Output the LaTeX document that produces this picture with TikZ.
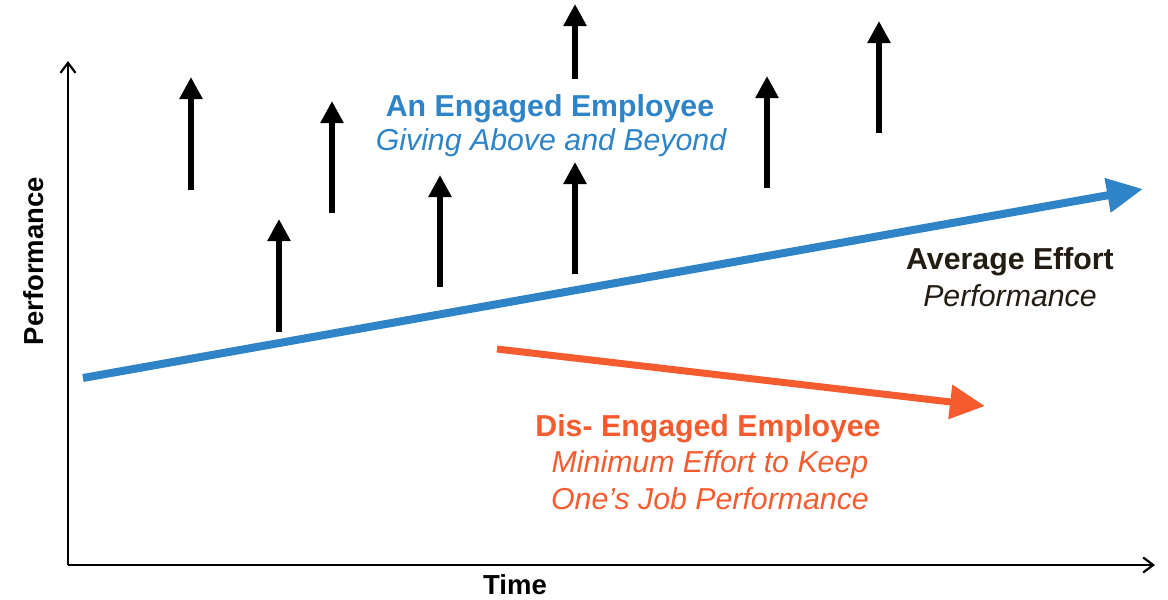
\documentclass[tikz,border=0pt]{standalone}
\usepackage{fontspec}
\setmainfont{Liberation Sans}
\usetikzlibrary{arrows.meta}
\definecolor{engblue}{RGB}{46,132,198}
\definecolor{disorange}{RGB}{244,92,48}
\definecolor{avgdark}{RGB}{34,28,18}
\tikzset{
  axisline/.style={line width=2pt,-{Straight Barb[length=10pt,width=15pt,line width=2.2pt]}},
  upbar/.style={line width=6pt,-{Triangle[length=22pt,width=22pt]}},
  bluetrend/.style={engblue,line width=8pt,-{Triangle[length=36pt,width=33pt]}},
  orangetrend/.style={disorange,line width=7pt,-{Triangle[length=35pt,width=33pt]}},
  bigbold/.style={font=\fontsize{30.3}{34}\selectfont\bfseries,inner sep=0pt},
  bigital/.style={font=\fontsize{30.3}{34}\selectfont\itshape,inner sep=0pt},
  axislabel/.style={font=\fontsize{27.5}{31}\selectfont\bfseries,inner sep=0pt}
}
\begin{document}
\begin{tikzpicture}[x=1pt,y=-1pt]
\useasboundingbox (0,0) rectangle (1168,600);
% axes
\coordinate (O) at (68,565);
\coordinate (Ytop) at (68,61);
\coordinate (Xend) at (1155,565);
\draw[axisline] (O) -- (Ytop);
\draw[axisline] (O) -- (Xend);
\node[axislabel,rotate=90] (perf) at (34,261) {Performance};
\node[axislabel] (time) at (515,585) {Time};
% black up arrows
\foreach \n/\x/\yb/\yt in {a1/191/190/77, a2/332/213/101, a3/279/332/219, a4/440/287/175, a5/575/274/162, a6/575/79/4, a7/767/188/76, a8/879/133/21}{
  \coordinate (\n b) at (\x,\yb);
  \coordinate (\n t) at (\x,\yt);
  \draw[upbar] (\n b) -- (\n t);
}
% trends
\coordinate (bs) at (83,378);
\coordinate (be) at (1143,189);
\draw[bluetrend] (bs) -- (be);
\coordinate (os) at (497,349);
\coordinate (oe) at (985,406);
\draw[orangetrend] (os) -- (oe);
% texts
\node[bigbold,text=engblue] (eng1) at (550,108.5) {An Engaged Employee};
\node[bigital,text=engblue] (eng2) at (551,143) {Giving Above and Beyond};
\node[bigbold,text=avgdark] (avg1) at (1010,261.5) {Average Effort};
\node[bigital,text=avgdark] (avg2) at (1010,296) {Performance};
\node[bigbold,text=disorange] (dis1) at (708,428.5) {Dis- Engaged Employee};
\node[bigital,text=disorange] (dis2) at (710,465) {Minimum Effort to Keep};
\node[bigital,text=disorange] (dis3) at (710,499) {One’s Job Performance};
\end{tikzpicture}
\end{document}
